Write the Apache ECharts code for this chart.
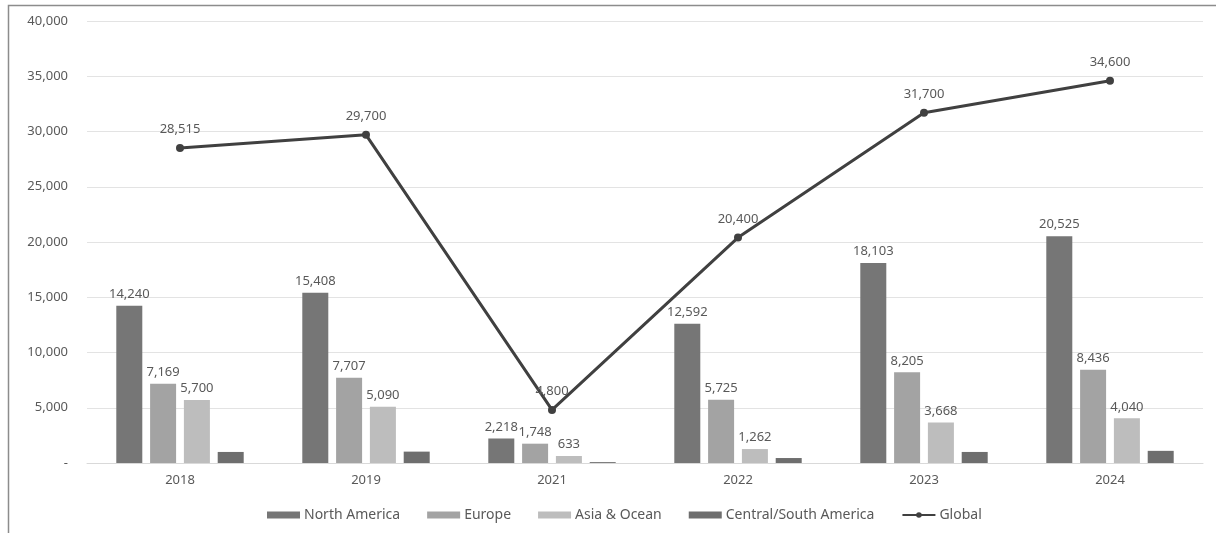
<!DOCTYPE html>
<html>
<head>
<meta charset="utf-8">
<script src="https://cdn.jsdelivr.net/npm/echarts@6/dist/echarts.min.js"></script>
<style>
  html, body { margin: 0; padding: 0; background: #fff; }
  #chart { width: 1216px; height: 533px; }
</style>
</head>
<body>
<div id="chart"></div>
<script>
// data
const years = ['2018', '2019', '2021', '2022', '2023', '2024']
const northAmerica = [14240, 15408, 2218, 12592, 18103, 20525]
const europe = [7169, 7707, 1748, 5725, 8205, 8436]
const asiaOcean = [5700, 5090, 633, 1262, 3668, 4040]
const centralSouthAmerica = [1000, 1030, 80, 450, 1000, 1100] // no labels, estimated
const globalTotal = [28515, 29700, 4800, 20400, 31700, 34600]

const fmt = v => v === 0 ? '-' : v.toLocaleString('en-US')
const txt = '#595959'
const font = 'Noto Sans'

const barLabel = {
  show: true, position: 'top', distance: 5,
  color: txt, fontSize: 13, fontFamily: font,
  formatter: p => fmt(p.value)
}

function bar(name, data, color, labelled) {
  return {
    name, type: 'bar', data,
    barWidth: 26, barGap: '30%',
    itemStyle: { color },
    label: labelled ? barLabel : { show: false }
  }
}

const chart = echarts.init(document.getElementById('chart'))
chart.setOption({
  animation: false,
  backgroundColor: '#fff',
  textStyle: { fontFamily: font },
  graphic: [{
    type: 'rect', silent: true,
    shape: { x: 8.5, y: 5.5, width: 1400, height: 700 },
    style: { fill: 'none', stroke: '#8c8c8c', lineWidth: 1.5 }
  }],
  grid: { left: 87, right: 13, top: 21, bottom: 70 },
  legend: {
    left: 262, top: 503,
    itemWidth: 33, itemHeight: 7, itemGap: 27,
    textStyle: { color: txt, fontSize: 14, fontFamily: font, padding: [0, 0, 0, -1] },
    data: [
      { name: 'North America', icon: 'rect' },
      { name: 'Europe', icon: 'rect' },
      { name: 'Asia & Ocean', icon: 'rect' },
      { name: 'Central/South America', icon: 'rect' },
      { name: 'Global' }
    ]
  },
  xAxis: {
    type: 'category', data: years,
    axisLine: { lineStyle: { color: '#d9d9d9', width: 1 } },
    axisTick: { show: false },
    axisLabel: { color: txt, fontSize: 13, fontFamily: font, margin: 11 }
  },
  yAxis: {
    type: 'value', min: 0, max: 40000, interval: 5000,
    axisLine: { show: false }, axisTick: { show: false },
    splitLine: { lineStyle: { color: '#e3e3e3', width: 1 } },
    axisLabel: { color: txt, fontSize: 13, fontFamily: font, margin: 19, formatter: fmt }
  },
  series: [
    bar('North America', northAmerica, '#767676', true),
    bar('Europe', europe, '#a3a3a3', true),
    bar('Asia & Ocean', asiaOcean, '#bdbdbd', true),
    bar('Central/South America', centralSouthAmerica, '#6e6e6e', false),
    {
      name: 'Global', type: 'line', data: globalTotal,
      symbol: 'circle', symbolSize: 8,
      lineStyle: { color: '#404040', width: 3 },
      itemStyle: { color: '#404040' },
      label: {
        show: true, position: 'top', distance: 8,
        color: txt, fontSize: 13, fontFamily: font,
        formatter: p => fmt(p.value)
      },
      z: 5
    }
  ]
})
</script>
</body>
</html>
